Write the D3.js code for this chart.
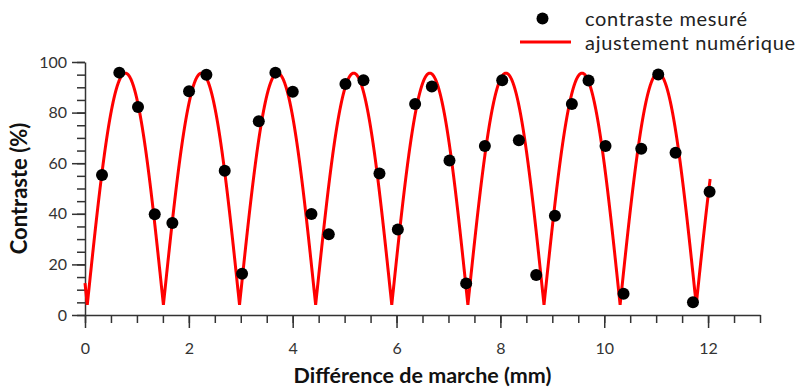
<!DOCTYPE html>
<html>
<head>
<meta charset="utf-8">
<script src="https://cdn.jsdelivr.net/npm/d3@7"></script>
<style>
  html, body { margin: 0; padding: 0; background: #fff; }
  svg { display: block; font-family: Lato, "Open Sans", sans-serif; }
</style>
</head>
<body>
<svg id="chart" width="800" height="388"></svg>
<script>
// Measured contrast versus path difference (mm)
const pathDiff = [0.328, 0.661, 1.021, 1.343, 1.683, 2.004, 2.338, 2.691, 3.025, 3.347,
                  3.667, 4.001, 4.361, 4.695, 5.016, 5.363, 5.671, 6.025, 6.358, 6.680,
                  7.020, 7.341, 7.701, 8.035, 8.356, 8.690, 9.050, 9.377, 9.698, 10.025,
                  10.372, 10.713, 11.040, 11.374, 11.709, 12.029];
const contrast = [55.3, 95.8, 82.2, 39.8, 36.4, 88.4, 95.0, 57.0, 16.3, 76.6,
                  95.8, 88.2, 39.9, 31.9, 91.3, 92.8, 55.9, 33.8, 83.4, 90.3,
                  61.1, 12.5, 66.8, 92.8, 69.1, 15.8, 39.2, 83.4, 92.7, 66.8,
                  8.4, 65.7, 95.1, 64.1, 5.0, 48.7];

// Numerical fit: C(d) = offset + amplitude * |sin(pi * (d - shift) / period)|
const fitParams = { offset: 4.0, amplitude: 91.6, period: 1.466, shift: 0.044 };
const fitRange = [0, 12.04];

const xMajorTicks = [0, 2, 4, 6, 8, 10, 12];
const yMajorTicks = [0, 20, 40, 60, 80, 100];
const legendLabels = ["contraste mesuré", "ajustement numérique"];

const svg = d3.select("#chart");
const plot = { left: 85, right: 760, top: 62, bottom: 315 };

const x = d3.scaleLinear().domain([0, 13]).range([plot.left, plot.right]);
const y = d3.scaleLinear().domain([0, 100]).range([plot.bottom, plot.top]);

const axisColor = "#333";

// Minor ticks
svg.append("g")
  .attr("transform", `translate(0,${plot.bottom})`)
  .call(d3.axisBottom(x).tickValues(d3.range(0, 13.01, 0.5)).tickSize(8).tickFormat(""))
  .call(g => g.select(".domain").remove());
svg.append("g")
  .attr("transform", `translate(${plot.left},0)`)
  .call(d3.axisLeft(y).tickValues(d3.range(0, 100.01, 5)).tickSize(8).tickFormat(""))
  .call(g => g.select(".domain").remove());

// Major ticks with labels
svg.append("g")
  .attr("transform", `translate(0,${plot.bottom})`)
  .call(d3.axisBottom(x).tickValues(xMajorTicks).tickSize(13).tickSizeOuter(0).tickPadding(15).tickFormat(d3.format("d")));
svg.append("g")
  .attr("transform", `translate(${plot.left},0)`)
  .call(d3.axisLeft(y).tickValues(yMajorTicks).tickSize(13).tickSizeOuter(0).tickPadding(5).tickFormat(d3.format("d")));

svg.selectAll(".tick line").attr("stroke", axisColor).attr("stroke-width", 1.5);
svg.selectAll(".domain").attr("stroke", axisColor).attr("stroke-width", 1.5);
svg.selectAll(".tick text")
  .attr("fill", axisColor)
  .style("font-size", "16px")
  .style("font-family", "Lato, 'Open Sans', sans-serif");

// Axis titles
svg.append("text")
  .attr("x", (plot.left + plot.right) / 2)
  .attr("y", 383)
  .attr("text-anchor", "middle")
  .attr("fill", "#111")
  .style("font-size", "21.5px")
  .style("font-weight", "bold")
  .text("Différence de marche (mm)");
svg.append("text")
  .attr("transform", `translate(27,${(plot.top + plot.bottom) / 2}) rotate(-90)`)
  .attr("text-anchor", "middle")
  .attr("fill", "#111")
  .style("font-size", "22px")
  .style("font-weight", "bold")
  .text("Contraste (%)");

// Fitted curve
const fitModel = d => fitParams.offset +
  fitParams.amplitude * Math.abs(Math.sin(Math.PI * (d - fitParams.shift) / fitParams.period));
const fitX = d3.range(fitRange[0], fitRange[1], 0.002).concat([fitRange[1]]);
svg.append("path")
  .datum(fitX)
  .attr("fill", "none")
  .attr("stroke", "#ff0000")
  .attr("stroke-width", 3)
  .attr("stroke-linejoin", "miter")
  .attr("d", d3.line().x(d => x(d)).y(d => y(fitModel(d))));

// Measured points
svg.append("g")
  .selectAll("circle")
  .data(pathDiff.map((d, i) => [d, contrast[i]]))
  .join("circle")
  .attr("cx", d => x(d[0]))
  .attr("cy", d => y(d[1]))
  .attr("r", 6)
  .attr("fill", "#000");

// Legend
const legend = svg.append("g");
legend.append("circle").attr("cx", 542.5).attr("cy", 18.5).attr("r", 6).attr("fill", "#000");
legend.append("line").attr("x1", 520).attr("x2", 571).attr("y1", 42).attr("y2", 42)
  .attr("stroke", "#ff0000").attr("stroke-width", 3);
legend.selectAll("text.lab")
  .data(legendLabels)
  .join("text")
  .attr("class", "lab")
  .attr("x", 585)
  .attr("y", (d, i) => 25.5 + i * 24.5)
  .attr("fill", "#222")
  .style("font-family", "Lato, 'Open Sans', sans-serif")
  .style("font-size", "20px")
  .style("letter-spacing", "0.7px")
  .text(d => d);
</script>
</body>
</html>
